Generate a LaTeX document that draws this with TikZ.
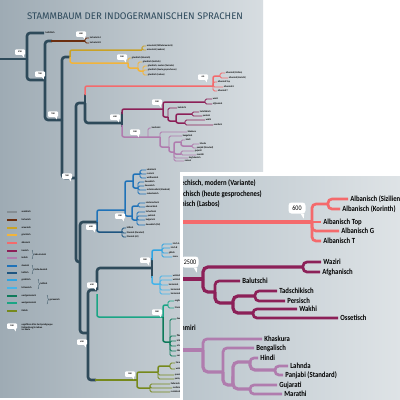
\documentclass[tikz,border=0pt]{standalone}
\usepackage{fontspec}
\setmainfont{Carlito}
\newfontfamily\condf{Carlito}[FakeStretch=0.86]
\newfontfamily\titlef{Fira Sans}
\usetikzlibrary{decorations.pathreplacing}
\definecolor{bgL}{HTML}{9EABB4}
\definecolor{bgR}{HTML}{D7DDE1}
\definecolor{inL}{HTML}{BAC5CC}
\definecolor{inR}{HTML}{DEE3E6}
\definecolor{trunk}{HTML}{2E4A5A}
\definecolor{titlec}{HTML}{2E4A5C}
\definecolor{anat}{HTML}{858E94}
\definecolor{toch}{HTML}{6B2E10}
\definecolor{armc}{HTML}{C9A227}
\definecolor{grc}{HTML}{F2B43A}
\definecolor{alb}{HTML}{F46A6C}
\definecolor{iran}{HTML}{8C2058}
\definecolor{ind}{HTML}{B07CAE}
\definecolor{slav}{HTML}{1F72B8}
\definecolor{balt}{HTML}{1E5580}
\definecolor{kelA}{HTML}{2FA4E2}
\definecolor{kelB}{HTML}{45B4EA}
\definecolor{gerA}{HTML}{0E7A5A}
\definecolor{gerB}{HTML}{1AA585}
\definecolor{ital}{HTML}{76891C}
\tikzset{
  tr/.style={line width=2.6pt, draw=trunk, rounded corners=3pt},
  gm/.style={line width=1.5pt, draw=#1, rounded corners=2pt},
  gl/.style={line width=0.9pt, draw=#1, rounded corners=1.5pt},
  bl/.style={anchor=west, inner sep=0.4pt, font=\condf\bfseries\fontsize{2.5}{2.8}\selectfont},
  im/.style={line width=3.2pt, draw=#1, rounded corners=5pt},
  il/.style={line width=2.7pt, draw=#1, rounded corners=4pt},
  ilab/.style={anchor=west, inner sep=1pt, font=\condf\bfseries\fontsize{7.8}{9}\selectfont},
  cb/.style={fill=white, rounded corners=1pt, inner sep=0.5pt, minimum width=10pt, minimum height=5.5pt, font=\condf\bfseries\fontsize{2.2}{2.4}\selectfont},
  ci/.style={fill=white, rounded corners=3pt, inner sep=1.5pt, minimum width=17pt, minimum height=11pt, font=\condf\fontsize{7}{8}\selectfont},
  lg/.style={line width=1.3pt, draw=#1},
  br/.style={decorate, decoration={brace, amplitude=1.5pt}, draw=trunk, line width=0.3pt}
}
\newcommand\callout[5]{\node[#5] (#1) at (#2,#3) {#4};
  \fill[white] ([xshift=-3.2pt]#1.south east) -- ([xshift=-1.4pt,yshift=-2.4pt]#1.south east) -- ([xshift=-1.2pt]#1.south east) -- cycle;}
\newcommand\calloutI[5]{\node[#5] (#1) at (#2,#3) {#4};
  \fill[white] ([xshift=-5pt]#1.south east) -- ([xshift=-2pt,yshift=-5pt]#1.south east) -- ([xshift=-1.5pt]#1.south east) -- cycle;}
\begin{document}
\begin{tikzpicture}[x=1pt,y=-1pt]
\useasboundingbox (0,0) rectangle (400,400);
\fill[white] (0,0) rectangle (400,400);
\shade[left color=bgL, right color=bgR] (0,0) rectangle (263,397);
\node[anchor=west, text=titlec, font=\titlef\fontsize{9.6}{10}\selectfont, inner sep=0] (title) at (27,16) {STAMMBAUM DER INDOGERMANISCHEN SPRACHEN};

% ---------- background tree ----------
\draw[tr] (0,59) -- (27,59);
\draw[tr] (27,59) |- (44,33) node[bl] (hit) {hethitisch};
\draw[tr] (27,59) |- (45,80);
\draw[tr] (45,80) |- (52,41);
\draw[gm=toch] (51,41) -- (85,41);
\draw[gl=toch] (85,41) |- (89,38) node[bl] {tocharisch A};
\draw[gl=toch] (85,41) |- (89,43) node[bl] {tocharisch B};
\draw[tr] (45,80) |- (62,120);
\draw[tr] (62,120) |- (70,57);
\draw[gm=armc] (70,57) |- (142,50);
\draw[gl=armc] (142,50) |- (146,46) node[bl] {armenisch (Mittelarmenisch)};
\draw[gl=armc] (142,50) |- (146,50) node[bl] {armenisch (modern)};
\draw[gm=grc] (70,57) |- (128,63);
\draw[gl=grc] (128,63) |- (131,58) node[bl] {griechisch (klassisch)};
\draw[gm=grc] (128,63) |- (138,68);
\draw[gl=grc] (138,68) |- (142,62) node[bl] {griechisch (kretisch)};
\draw[gm=grc] (138,68) |- (143,71);
\draw[gl=grc] (143,71) |- (147,66) node[bl] {griechisch, modern (Variante)};
\draw[gl=grc] (143,71) |- (147,70) node[bl] {griechisch (heute gesprochenes)};
\draw[gl=grc] (143,71) |- (147,75) node[bl] {griechisch (Lasbos)};
\draw[tr] (62,120) |- (76,178);
\draw[tr] (76,178) |- (85,103);
\draw[tr] (85,103) -- (85,94);
\draw[gm=alb] (85,95) |- (213,86);
\draw[gm=alb] (213,86) |- (220,76);
\draw[gl=alb] (220,76) |- (225,73) node[bl] {albanisch (Sizilien)};
\draw[gl=alb] (220,76) |- (228,78) node[bl] {albanisch (Korinth)};
\draw[gl=alb] (213,86) |- (217,82) node[bl] {albanisch Top};
\draw[gl=alb] (213,86) |- (223,87) node[bl] {albanisch G};
\draw[gl=alb] (213,86) |- (217,91) node[bl] {albanisch T};
\draw[tr] (85,103) |- (122,123);
\draw[tr] (122,112) -- (122,127);
\draw[gm=iran] (122,114) |- (163,109);
\draw[gm=iran] (163,109) |- (205,102);
\draw[gl=iran] (205,102) |- (212,99) node[bl] {waziri};
\draw[gl=iran] (205,102) |- (212,104) node[bl] {afghanisch};
\draw[gm=iran] (163,109) |- (168,117);
\draw[gl=iran] (168,117) |- (177,108) node[bl] {balutschi};
\draw[gm=iran] (168,117) |- (176,121);
\draw[gm=iran] (176,121) |- (192,114);
\draw[gl=iran] (192,114) |- (199,112) node[bl] {tadschikisch};
\draw[gl=iran] (192,114) |- (202,116) node[bl] {persisch};
\draw[gm=iran] (176,121) |- (185,123);
\draw[gl=iran] (185,123) |- (205,120) node[bl] {wakhi};
\draw[gl=iran] (185,123) |- (213,125) node[bl] {ossetisch};
\draw[gm=ind] (122,125) |- (160,137);
\draw[gl=ind] (148,137) |- (151,128) node[bl] {kaschmiri};
\draw[gl=ind] (160,137) |- (187,132) node[bl] {khaskura};
\draw[gm=ind] (160,137) |- (169,147);
\draw[gl=ind] (169,147) |- (182,136) node[bl] {bengalisch};
\draw[gm=ind] (169,147) |- (174,152);
\draw[gm=ind] (174,152) |- (181,142);
\draw[gl=ind] (181,142) |- (185,140) node[bl] {hindi};
\draw[gm=ind] (181,142) |- (192,146);
\draw[gl=ind] (192,146) |- (199,144) node[bl] {lahnda};
\draw[gl=ind] (192,146) |- (196,148) node[bl] {panjabi (Standard)};
\draw[gm=ind] (174,152) |- (181,154);
\draw[gl=ind] (181,154) |- (194,151) node[bl] {gujarati};
\draw[gl=ind] (181,154) |- (196,155) node[bl] {marathi};
\draw[gl=ind] (174,152) |- (188,158) node[bl] {singhalesisch};
\draw[gl=ind] (174,152) |- (184,161) node[bl] {romani};
% lower trunk
\draw[tr] (76,178) |- (80,262);
\draw[tr] (80,262) |- (97,222);
\draw[tr] (80,262) |- (88,333);
\draw[tr] (88,333) |- (97,290);
\draw[tr] (88,333) |- (96,380);
% balto-slavic
\draw[gm=slav] (97,222) |- (125,210);
\draw[gm=balt] (97,222) |- (122,232);
\draw[gl=balt] (122,232) |- (126,228) node[bl] {lettisch};
\draw[gl=balt] (122,232) |- (126,233) node[bl] {litauisch (Standard)};
\draw[gl=balt] (122,232) |- (126,237) node[bl] {litauisch (alt)};
\draw[gm=slav] (125,210) |- (133,181);
\draw[gm=slav] (133,181) |- (140,174);
\draw[gl=slav] (140,174) |- (146,170) node[bl] {ukrainisch};
\draw[gl=slav] (140,174) |- (146,174) node[bl] {russisch};
\draw[gl=slav] (140,174) |- (146,178) node[bl] {weißrussisch};
\draw[gm=slav] (133,181) |- (138,188);
\draw[gl=slav] (138,188) |- (144,182) node[bl] {slowakisch};
\draw[gl=slav] (138,188) |- (144,186) node[bl] {slowenisch};
\draw[gl=slav] (138,188) |- (146,190) node[bl] {serbokroatisch (Standard)};
\draw[gl=slav] (138,188) |- (146,194) node[bl] {makedonisch};
\draw[gm=slav] (125,210) |- (132,216);
\draw[gm=slav] (132,216) |- (138,206);
\draw[gl=slav] (138,206) |- (145,203) node[bl] {niedersorbisch};
\draw[gl=slav] (138,206) |- (145,207) node[bl] {obersorbisch};
\draw[gm=slav] (132,216) |- (137,220);
\draw[gl=slav] (137,220) |- (145,212) node[bl] {tschechisch};
\draw[gl=slav] (137,220) |- (147,216) node[bl] {polnisch};
\draw[gl=slav] (137,220) |- (145,220) node[bl] {bulgarisch};
\draw[gl=slav] (137,220) |- (145,225) node[bl] {slowakisch (Ost)};
% celtic
\draw[tr] (97,290) |- (152,268);
\draw[tr] (152,258) -- (152,278);
\draw[gm=kelA] (152,260) |- (162,250);
\draw[gl=kelA] (162,250) |- (172,244) node[bl] {irisch A};
\draw[gl=kelA] (162,250) |- (170,248) node[bl] {irisch B};
\draw[gl=kelA] (162,250) |- (168,253) node[bl] {gälisch};
\draw[gl=kelA] (162,250) |- (172,257) node[bl] {manx};
\draw[gm=kelB] (152,276) |- (160,284);
\draw[gl=kelB] (160,284) |- (172,276) node[bl] {walisisch N};
\draw[gl=kelB] (160,284) |- (172,280) node[bl] {walisisch C};
\draw[gl=kelB] (160,284) |- (168,285) node[bl] {bretonisch};
\draw[gl=kelB] (160,284) |- (170,290) node[bl] {bretonisch SE};
\draw[gl=kelB] (160,284) |- (170,294) node[bl] {bretonisch ST};
% germanic
\draw[gm=gerB] (97,294) |- (163,317);
\draw[gm=gerB] (163,317) |- (168,305);
\draw[gl=gerB] (168,305) |- (174,301) node[bl] {englisch};
\draw[gl=gerB] (168,305) |- (174,308) node[bl] {friesisch};
\draw[gm=gerA] (163,317) |- (170,342);
\draw[gl=gerA] (170,342) |- (176,319) node[bl] {deutsch};
\draw[gl=gerA] (170,342) |- (176,336) node[bl] {flämisch};
\draw[gl=gerA] (170,342) |- (176,341) node[bl] {isländisch};
\draw[gl=gerA] (170,342) |- (176,346) node[bl] {schwedisch};
\draw[gl=gerA] (170,342) |- (176,351) node[bl] {dänisch};
\draw[gl=gerA] (170,342) |- (176,356) node[bl] {norwegisch};
% italic
\draw[gm=ital] (95,380) -- (137,380);
\draw[gm=ital] (137,380) |- (158,372);
\draw[gm=ital] (158,372) |- (170,366);
\draw[gl=ital] (170,366) |- (175,363) node[bl] {französisch};
\draw[gl=ital] (170,366) |- (175,369) node[bl] {wallonisch};
\draw[gl=ital] (158,372) |- (174,375) node[bl] {spanisch};
\draw[gl=ital] (158,372) |- (174,379) node[bl] {portugiesisch};
\draw[gm=ital] (137,380) |- (150,388);
\draw[gl=ital] (150,388) |- (170,384) node[bl] {italienisch};
\draw[gl=ital] (150,388) |- (172,388) node[bl] {sardinisch};
\draw[gl=ital] (150,388) |- (170,392) node[bl] {rumänisch};
% callouts background
\callout{c1}{20}{52}{8700}{cb}
\callout{c2}{81}{34}{4000}{cb}
\callout{c3}{40}{74}{7900}{cb}
\callout{c4}{53}{114}{7300}{cb}
\callout{c5}{67}{176}{7000}{cb}
\callout{c6}{122}{57}{2500}{cb}
\callout{c7}{203}{77}{600}{cb}
\callout{c8}{115}{117}{4500}{cb}
\callout{c9}{157}{102}{2500}{cb}
\callout{c10}{135}{132}{2500}{cb}
\callout{c11}{91}{227}{6500}{cb}
\callout{c12}{120}{216}{1300}{cb}
\callout{c13}{145}{260}{3000}{cb}
\callout{c14}{92}{285}{6100}{cb}
\callout{c15}{82}{342}{6300}{cb}
\callout{c16}{157}{312}{2000}{cb}
\callout{c17}{130}{374}{2000}{cb}
% legend
\foreach \y/\c/\t in {212/anat/anatolisch, 220/toch/tocharisch, 228/armc/armenisch, 235/grc/griechisch, 243/alb/albanisch, 251/iran/iranisch, 258/ind/indisch, 266/slav/slawisch, 273/balt/baltisch, 280/kelA/goidelisch, 288/kelB/britannisch, 296/gerA/nordgermanisch, 303/gerB/westgermanisch, 311/ital/italisch}
  {\draw[lg=\c] (7,\y) -- (17,\y); \node[bl] at (21,\y) {\t};}
\draw[br] (32,250) -- (32,259) node[bl, midway, xshift=2pt] {indo-iranisch};
\draw[br] (32,265) -- (32,274) node[bl, midway, xshift=2pt] {balto-slawisch};
\draw[br] (38,279) -- (38,289) node[bl, midway, xshift=2pt] {keltisch};
\draw[br] (47,295) -- (47,304) node[bl, midway, xshift=2pt] {germanisch};
\callout{cl}{12}{326}{2500}{cb}
\node[bl, align=left, anchor=north west] (lgt) at (21,323) {ungefähres Alter der Sprachgruppe\\(Aufspaltung) in Jahren\\vor heute};

% ---------- inset ----------
\fill[white] (180,172) rectangle (400,400);
\shade[left color=inL, right color=inR] (183,176) rectangle (400,400);
\begin{scope}
\clip (183,176) rectangle (400,400);
\node[ilab, anchor=east] (g1) at (257,183) {Griechisch, modern (Variante)};
\node[ilab, anchor=east] (g2) at (263,194) {Griechisch (heute gesprochenes)};
\node[ilab, anchor=east] (g3) at (221,204) {Griechisch (Lasbos)};
% albanian
\draw[im=alb] (170,222) -- (312,222);
\draw[il=alb] (312,222) |- (328,204);
\draw[il=alb] (328,204) |- (348,199) node[ilab] (a1) {Albanisch (Sizilien)};
\draw[il=alb] (328,204) |- (340,209) node[ilab] (a2) {Albanisch (Korinth)};
\draw[il=alb] (312,222) -- (321,222) node[ilab] (a3) {Albanisch Top};
\draw[il=alb] (312,222) |- (339,231) node[ilab] (a4) {Albanisch G};
\draw[il=alb] (312,222) |- (321,241) node[ilab] (a5) {Albanisch T};
\calloutI{ci1}{297}{208}{600}{ci}
% iranian
\draw[im=iran] (170,279) -- (203,279);
\draw[im=iran] (203,279) |- (303,267);
\draw[il=iran] (303,267) |- (321,262) node[ilab] (i1) {Waziri};
\draw[il=iran] (303,267) |- (320,272) node[ilab] (i2) {Afghanisch};
\draw[im=iran] (203,279) |- (215,292);
\draw[il=iran] (215,292) |- (240,281) node[ilab] (i3) {Balutschi};
\draw[im=iran] (215,292) |- (233,303);
\draw[im=iran] (233,303) |- (255,296);
\draw[il=iran] (255,296) |- (277,291) node[ilab] (i4) {Tadschikisch};
\draw[il=iran] (255,296) |- (285,301) node[ilab] (i5) {Persisch};
\draw[im=iran] (233,303) |- (253,313);
\draw[il=iran] (253,313) |- (297,309) node[ilab] (i6) {Wakhi};
\draw[il=iran] (253,313) |- (338,318) node[ilab] (i7) {Ossetisch};
\calloutI{ci2}{190}{262}{2500}{ci}
\node[ilab, anchor=east] (k0) at (197,328) {Kaschmiri};
% indic
\draw[im=ind] (170,350) -- (203,350);
\draw[il=ind] (203,350) |- (262,339) node[ilab] (p1) {Khaskura};
\draw[im=ind] (203,350) |- (223,372);
\draw[il=ind] (223,372) |- (254,348) node[ilab] (p2) {Bengalisch};
\draw[im=ind] (223,372) |- (233,385);
\draw[im=ind] (233,385) |- (250,362);
\draw[il=ind] (250,362) |- (258,358) node[ilab] (p3) {Hindi};
\draw[im=ind] (250,362) |- (275,370);
\draw[il=ind] (275,370) |- (288,366) node[ilab] (p4) {Lahnda};
\draw[il=ind] (275,370) |- (283,375) node[ilab] (p5) {Panjabi (Standard)};
\draw[im=ind] (233,385) |- (250,389);
\draw[il=ind] (250,389) |- (277,385) node[ilab] (p6) {Gujarati};
\draw[il=ind] (250,389) |- (282,394) node[ilab] (p7) {Marathi};
\end{scope}
\end{tikzpicture}
\end{document}
